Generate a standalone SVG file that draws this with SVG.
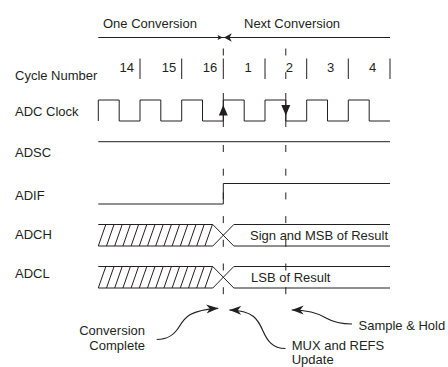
<svg xmlns="http://www.w3.org/2000/svg" width="448" height="367" viewBox="0 0 448 367">
<style>
text{font-family:"Liberation Sans",Arial,sans-serif;font-size:13px;fill:#231f20}
.ln{fill:none;stroke:#231f20;stroke-width:1}
.dash{fill:none;stroke:#231f20;stroke-width:1;stroke-dasharray:7 16.7}
.cv{fill:none;stroke:#231f20;stroke-width:1.2}
.mid{text-anchor:middle}
.end{text-anchor:end}
.ah{fill:#231f20}
</style>
<defs>
<marker id="stealth" markerUnits="userSpaceOnUse" markerWidth="13" markerHeight="10" refX="12" refY="4.5" orient="auto">
<path d="M0,0 L12,4.5 L0,9 L3.5,4.5 Z" fill="#231f20"/>
</marker>
<g id="hatch">
<path class="ln" d="M98.3,224.5 H212.8 L233.8,246 H390 M98.3,246 H212.8 L233.8,224.5 H390"/>
<path class="ln" d="M98.3,246 L105.8,224.5 M106.5,246 L114,224.5 M114.7,246 L122.2,224.5 M122.9,246 L130.4,224.5 M131.1,246 L138.6,224.5 M139.3,246 L146.8,224.5 M147.5,246 L155,224.5 M155.7,246 L163.2,224.5 M163.9,246 L171.4,224.5 M172.1,246 L179.6,224.5 M180.3,246 L187.8,224.5 M188.5,246 L196,224.5 M196.7,246 L204.2,224.5 M204.9,246 L212.4,224.5"/>
</g>
</defs>

<g id="header">
<text x="103" y="28">One Conversion</text>
<text x="244" y="28">Next Conversion</text>
<path class="ln" d="M98.3,37.5 H390"/>
<path class="ah" d="M222.7,37.5 L217.5,35 L218.6,37.5 L217.5,40 Z"/>
<path class="ah" d="M224,37.5 L231.8,33.3 L229.6,37.5 L231.8,41.7 Z"/>
</g>

<g id="cycle-number">
<text x="15" y="80">Cycle Number</text>
<text class="mid" x="126.7" y="71.5">14</text>
<text class="mid" x="169" y="71.5">15</text>
<text class="mid" x="210" y="71.5">16</text>
<text class="mid" x="248" y="71.5">1</text>
<text class="mid" x="289.3" y="71.5">2</text>
<text class="mid" x="330.7" y="71.5">3</text>
<text class="mid" x="372.7" y="71.5">4</text>
<path class="ln" d="M140,58.5 V79 M181.7,58.5 V79 M223.3,58.5 V79 M265,58.5 V79 M306.7,58.5 V79 M348.3,58.5 V79 M390,58.5 V79"/>
</g>

<g id="adc-clock">
<text x="15" y="116">ADC Clock</text>
<path class="ln" d="M98.3,121 V100 H119.2 V121 H140 V100 H160.8 V121 H181.7 V100 H202.5 V121 H223.3 V100 H244.2 V121 H265 V100 H285.8 V121 H306.7 V100 H327.5 V121 H348.3 V100 H369.2 V121 H390"/>
</g>

<g id="adsc">
<text x="15" y="157">ADSC</text>
<path class="ln" d="M98.3,141.7 H390"/>
</g>

<g id="adif">
<text x="15" y="200">ADIF</text>
<path class="ln" d="M98.3,204 H223.3 V183.5 H390"/>
</g>

<g id="adch">
<text x="15" y="239">ADCH</text>
<use href="#hatch"/>
<text x="250" y="240">Sign and MSB of Result</text>
</g>

<g id="adcl">
<text x="15" y="278">ADCL</text>
<use href="#hatch" transform="translate(0,42)"/>
<text x="251" y="282">LSB of Result</text>
</g>

<g id="markers-lines">
<path class="dash" d="M223.3,48.5 V56"/>
<path class="dash" d="M285.8,48.5 V79"/>
<path class="ln" d="M223.3,93 V127 M285.8,93 V127"/>
<path class="ah" d="M223.3,105 L218.8,115.5 L227.8,115.5 Z"/>
<path class="ah" d="M285.8,115.5 L281.3,105 L290.3,105 Z"/>
<path class="dash" d="M223.3,145 V295 M285.8,145 V295"/>
</g>

<g id="annotations">
<text class="end" x="145" y="335">Conversion</text>
<text class="end" x="145" y="350">Complete</text>
<text x="291.7" y="349.5">MUX and REFS</text>
<text x="291.7" y="363.8">Update</text>
<text x="358.5" y="329.5">Sample &amp; Hold</text>
</g>

<g id="connectors">
<path class="cv" marker-end="url(#stealth)" d="M156.7,339.5 C168,339.5 174,335 179,327 C185,317 190,310 218.3,308.3"/>
<path class="cv" marker-end="url(#stealth)" d="M285.5,348.5 C272,348.5 267,340 263,331 C258,319 253,310.5 229.3,310"/>
<path class="cv" marker-end="url(#stealth)" d="M352,324 C340,324 333,322 326,318 C318,313 308,310 291.7,310"/>
</g>
</svg>
